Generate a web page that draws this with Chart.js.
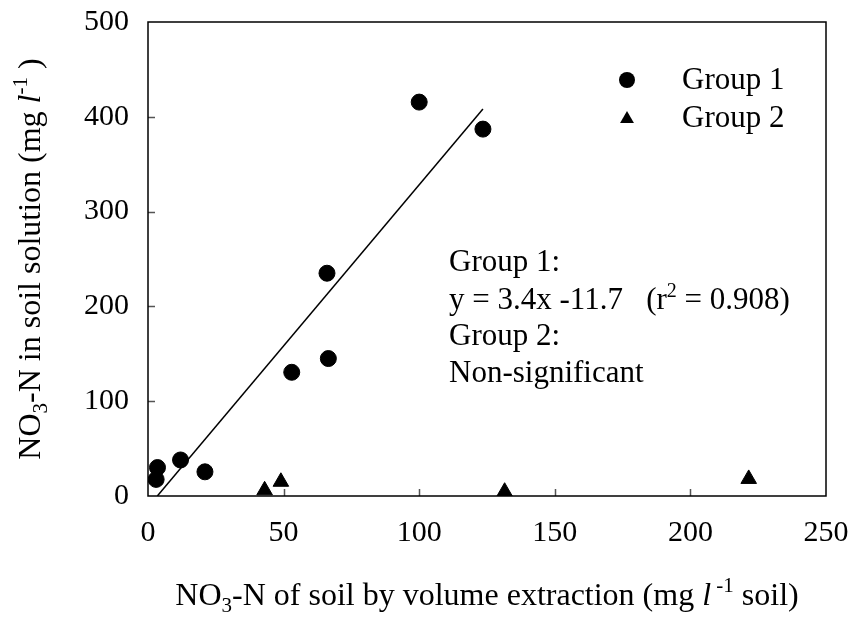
<!DOCTYPE html>
<html>
<head>
<meta charset="utf-8">
<script src="https://cdn.jsdelivr.net/npm/chart.js@4.4.1/dist/chart.umd.min.js"></script>
<style>
  html, body { margin: 0; padding: 0; background: #fff; }
  canvas { display: block; }
</style>
</head>
<body>
<canvas id="mycanvas" width="856" height="618"></canvas>
<script>
// Group 1 samples
var group1X = [3, 3.5, 12, 21, 53, 66, 66.5, 100, 123.5];
var group1Y = [17.5, 30, 38, 25.5, 130.5, 235, 145, 415.5, 387];

// Group 2 samples
var group2X = [43, 49, 131.5, 221.5];
var group2Y = [6, 15, 4.5, 18];

// Group 1 regression: y = 3.4x - 11.7
var fitSlope = 3.4;
var fitIntercept = -11.7;

var xTicks = [0, 50, 100, 150, 200, 250];
var yTicks = [0, 100, 200, 300, 400, 500];

var serif = "'Liberation Serif', 'Times New Roman', serif";
var textSize = 31;
var titleSize = 32;

function toPoints(xs, ys) {
  var pts = [];
  for (var i in xs) {
    pts.push({ x: xs[i], y: ys[i] });
  }
  return pts;
}

// fit line runs from where it crosses zero up to the largest Group 1 x
var fitStart = -fitIntercept / fitSlope;
var fitEnd = Math.max.apply(null, group1X);
var fitLine = [
  { x: fitStart, y: fitSlope * fitStart + fitIntercept },
  { x: fitEnd, y: fitSlope * fitEnd + fitIntercept }
];

// text with sub/superscripts and italics, drawn piece by piece
function partFont(p, size) {
  var s = (p.sub || p.sup) ? Math.round(size * 0.65) : size;
  return (p.it ? 'italic ' : '') + s + 'px ' + serif;
}

function richWidth(ctx, parts, size) {
  var w = 0;
  parts.forEach(function(p) {
    ctx.font = partFont(p, size);
    w += ctx.measureText(p.t).width;
  });
  return w;
}

function drawRich(ctx, parts, x, y, size) {
  ctx.textAlign = 'left';
  ctx.textBaseline = 'alphabetic';
  parts.forEach(function(p) {
    ctx.font = partFont(p, size);
    var dy = p.sub ? size * 0.22 : (p.sup ? -size * 0.4 : 0);
    ctx.fillText(p.t, x, y + dy);
    x += ctx.measureText(p.t).width;
  });
}

var xTitle = [
  { t: 'NO' }, { t: '3', sub: true }, { t: '-N of soil by volume extraction (mg ' },
  { t: 'l', it: true }, { t: ' -1', sup: true }, { t: ' soil)' }
];
var yTitle = [
  { t: 'NO' }, { t: '3', sub: true }, { t: '-N in soil solution (mg ' },
  { t: 'l', it: true }, { t: '-1', sup: true }, { t: ' )' }
];
var noteLines = [
  [{ t: 'Group 1:' }],
  [{ t: 'y = 3.4x -11.7   (r' }, { t: '2', sup: true }, { t: ' = 0.908)' }],
  [{ t: 'Group 2:' }],
  [{ t: 'Non-significant' }]
];

var framePlugin = {
  id: 'frame',
  beforeDatasetsDraw: function(chart) {
    var ctx = chart.ctx;
    var a = chart.chartArea;
    var xs = chart.scales.x, ys = chart.scales.y;
    ctx.save();
    // inward ticks
    ctx.strokeStyle = '#555';
    ctx.lineWidth = 1.5;
    ctx.beginPath();
    xTicks.forEach(function(v) {
      if (v === xTicks[0] || v === xTicks[xTicks.length - 1]) return;
      var px = Math.round(xs.getPixelForValue(v)) + 0.5;
      ctx.moveTo(px, a.bottom);
      ctx.lineTo(px, a.bottom - 7);
    });
    yTicks.forEach(function(v) {
      if (v === yTicks[0] || v === yTicks[yTicks.length - 1]) return;
      var py = Math.round(ys.getPixelForValue(v)) + 0.5;
      ctx.moveTo(a.left, py);
      ctx.lineTo(a.left + 7, py);
    });
    ctx.stroke();
    // box round the plot
    ctx.strokeStyle = '#000';
    ctx.lineWidth = 1.5;
    ctx.strokeRect(a.left, a.top, a.right - a.left, a.bottom - a.top);
    ctx.restore();
  },
  afterDraw: function(chart) {
    var ctx = chart.ctx;
    var a = chart.chartArea;
    ctx.save();
    ctx.fillStyle = '#000';

    // axis titles
    var wx = richWidth(ctx, xTitle, titleSize);
    drawRich(ctx, xTitle, (a.left + a.right) / 2 - wx / 2, 605, titleSize);

    var wy = richWidth(ctx, yTitle, titleSize);
    ctx.save();
    ctx.translate(40, (a.top + a.bottom) / 2);
    ctx.rotate(-Math.PI / 2);
    drawRich(ctx, yTitle, -wy / 2, 0, titleSize);
    ctx.restore();

    // legend
    ctx.beginPath();
    ctx.arc(627, 80, 8, 0, Math.PI * 2);
    ctx.fill();
    var r = 8, tx = 627, ty = 119;
    ctx.beginPath();
    ctx.moveTo(tx, ty - r);
    ctx.lineTo(tx + r * 0.866, ty + r * 0.5);
    ctx.lineTo(tx - r * 0.866, ty + r * 0.5);
    ctx.closePath();
    ctx.fill();
    drawRich(ctx, [{ t: 'Group 1' }], 682, 89, textSize);
    drawRich(ctx, [{ t: 'Group 2' }], 682, 127, textSize);

    // regression note
    var baselines = [271, 309, 345, 382];
    noteLines.forEach(function(line, i) {
      drawRich(ctx, line, 449, baselines[i], textSize);
    });
    ctx.restore();
  }
};

var chartdata = {
  datasets: [
    {
      label: 'Group 1',
      data: toPoints(group1X, group1Y),
      pointStyle: 'circle',
      pointRadius: 8,
      pointBorderWidth: 1,
      backgroundColor: '#000',
      borderColor: '#000'
    },
    {
      label: 'Group 2',
      data: toPoints(group2X, group2Y),
      pointStyle: 'triangle',
      pointRadius: 9,
      pointBorderWidth: 1,
      backgroundColor: '#000',
      borderColor: '#000'
    },
    {
      label: 'Group 1 fit',
      type: 'line',
      data: fitLine,
      showLine: true,
      pointRadius: 0,
      borderColor: '#000',
      borderWidth: 1.5,
      fill: false
    }
  ]
};

var tickFont = { family: serif, size: 30 };

var ctx = document.getElementById('mycanvas');

var scatter = new Chart(ctx, {
  type: 'scatter',
  data: chartdata,
  plugins: [framePlugin],
  options: {
    responsive: false,
    animation: false,
    devicePixelRatio: 1,
    layout: { padding: { left: 0, right: 30, top: 22, bottom: 0 } },
    plugins: {
      legend: { display: false },
      tooltip: { enabled: false }
    },
    scales: {
      x: {
        type: 'linear',
        min: 0,
        max: 250,
        afterBuildTicks: function(s) { s.ticks = xTicks.map(function(v) { return { value: v }; }); },
        afterFit: function(s) {
          s.height = 122;
          s.paddingLeft = 0; s.paddingRight = 0;
        },
        grid: { display: false, drawTicks: false },
        border: { display: false },
        ticks: { font: tickFont, color: '#000', padding: 19, maxRotation: 0 }
      },
      y: {
        type: 'linear',
        min: 0,
        max: 500,
        afterBuildTicks: function(s) { s.ticks = yTicks.map(function(v) { return { value: v }; }); },
        afterFit: function(s) {
          s.width = 148;
          s.paddingTop = 0; s.paddingBottom = 0;
        },
        grid: { display: false, drawTicks: false },
        border: { display: false },
        ticks: { font: tickFont, color: '#000', padding: 19 }
      }
    }
  }
});
</script>
</body>
</html>
